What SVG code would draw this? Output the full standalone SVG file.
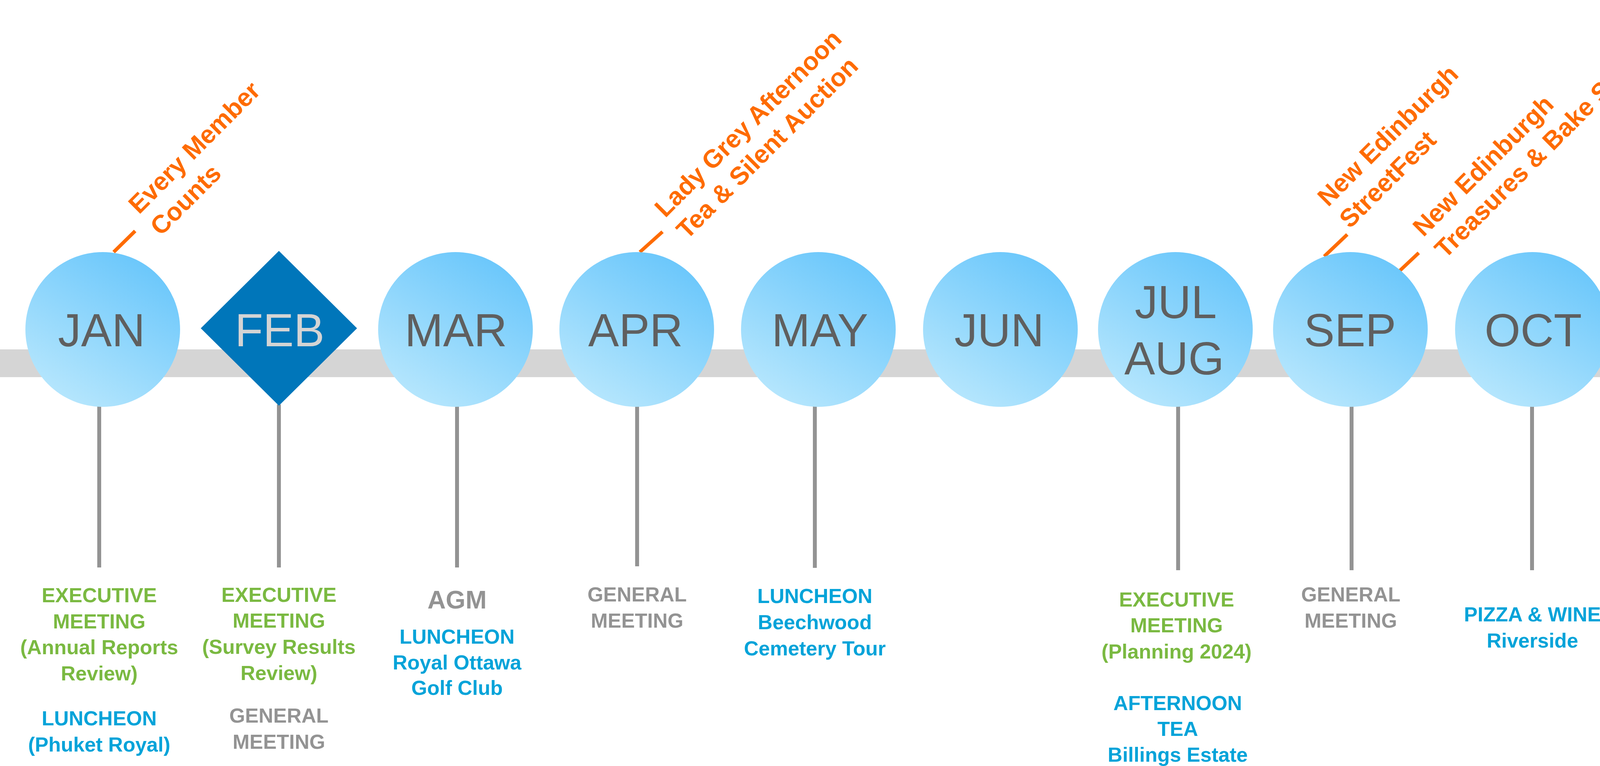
<svg xmlns="http://www.w3.org/2000/svg" width="5079" height="1960" viewBox="0 0 5079 1960">
<defs>
<linearGradient id="bubble" x1="0.2" y1="1" x2="0.8" y2="0">
<stop offset="0" stop-color="#bae8fd"/>
<stop offset="1" stop-color="#66c5fb"/>
</linearGradient>
<style>
.bubble{fill:url(#bubble)}
.month{font-family:"Liberation Sans",Arial,sans-serif;font-size:118px;fill:#5f5f5f;text-anchor:middle}
.feb{fill:#d4d4d4}
.det{font-family:"Liberation Sans",Arial,sans-serif;font-size:52px;font-weight:bold;text-anchor:middle}
.green{fill:#7ab941}
.blue{fill:#03a3d9}
.gray{fill:#939393}
.agm{font-size:65px}
.event{font-family:"Liberation Sans",Arial,sans-serif;font-size:65px;font-weight:bold;fill:#fe6b00}
.stem{stroke:#939393;stroke-width:10}
.leader{stroke:#fe6b00;stroke-width:9}
</style>
</defs>
<rect x="0" y="894" width="5079" height="71" fill="#d5d5d5"/>
<g id="connectors">
<line class="stem" x1="254" y1="1035" x2="254" y2="1452"/>
<line class="stem" x1="714" y1="1035" x2="714" y2="1452"/>
<line class="stem" x1="1170" y1="1035" x2="1170" y2="1452"/>
<line class="stem" x1="1631" y1="1035" x2="1631" y2="1449"/>
<line class="stem" x1="2086" y1="1035" x2="2086" y2="1453"/>
<line class="stem" x1="3016" y1="1035" x2="3016" y2="1459"/>
<line class="stem" x1="3460" y1="1022" x2="3460" y2="1459"/>
<line class="stem" x1="3922" y1="1035" x2="3922" y2="1459"/>
<line class="stem" x1="4399" y1="1035" x2="4399" y2="1453"/>
<line class="stem" x1="4864" y1="1035" x2="4864" y2="1456"/>
<line class="leader" x1="291" y1="645" x2="346" y2="591"/>
<line class="leader" x1="1638" y1="645" x2="1696" y2="593"/>
<line class="leader" x1="3390" y1="656" x2="3449" y2="600"/>
<line class="leader" x1="3582" y1="694" x2="3632" y2="647"/>
<line class="leader" x1="4414" y1="638" x2="4473" y2="582"/>
</g>
<g id="node-jan">
<circle class="bubble" cx="263" cy="843" r="198"/>
<text class="month" x="260" y="886">JAN</text>
<text class="event" transform="translate(356,550) rotate(-45)"><tspan x="0" y="0">Every Member</tspan><tspan x="0" y="79">Counts</tspan></text>
<text class="det green"><tspan x="254" y="1541">EXECUTIVE</tspan><tspan x="254" y="1608">MEETING</tspan><tspan x="254" y="1674">(Annual Reports</tspan><tspan x="254" y="1741">Review)</tspan></text>
<text class="det blue"><tspan x="254" y="1856">LUNCHEON</tspan><tspan x="254" y="1923">(Phuket Royal)</tspan></text>
</g>
<g id="node-feb">
<polygon points="714,642 914,840 714,1038 514,840" fill="#0076ba"/>
<text class="month feb" x="716" y="886">FEB</text>
<text class="det green"><tspan x="714" y="1540">EXECUTIVE</tspan><tspan x="714" y="1606">MEETING</tspan><tspan x="714" y="1673">(Survey Results</tspan><tspan x="714" y="1740">Review)</tspan></text>
<text class="det gray"><tspan x="714" y="1849">GENERAL</tspan><tspan x="714" y="1916">MEETING</tspan></text>
</g>
<g id="node-mar">
<circle class="bubble" cx="1166" cy="843" r="198"/>
<text class="month" x="1167" y="886">MAR</text>
<text class="det gray agm" x="1170" y="1557">AGM</text>
<text class="det blue"><tspan x="1170" y="1647">LUNCHEON</tspan><tspan x="1170" y="1713">Royal Ottawa</tspan><tspan x="1170" y="1778">Golf Club</tspan></text>
</g>
<g id="node-apr">
<circle class="bubble" cx="1630" cy="843" r="198"/>
<text class="month" x="1627" y="886">APR</text>
<text class="event" transform="translate(1703,559) rotate(-45)"><tspan x="0" y="0">Lady Grey Afternoon</tspan><tspan x="0" y="79">Tea &amp; Silent Auction</tspan></text>
<text class="det gray"><tspan x="1631" y="1539">GENERAL</tspan><tspan x="1631" y="1606">MEETING</tspan></text>
</g>
<g id="node-may">
<circle class="bubble" cx="2095" cy="843" r="198"/>
<text class="month" x="2099" y="886">MAY</text>
<text class="det blue"><tspan x="2086" y="1543">LUNCHEON</tspan><tspan x="2086" y="1610">Beechwood</tspan><tspan x="2086" y="1677">Cemetery Tour</tspan></text>
</g>
<g id="node-jun">
<circle class="bubble" cx="2561" cy="843" r="198"/>
<text class="month" x="2558" y="886">JUN</text>
</g>
<g id="node-julaug">
<circle class="bubble" cx="3009" cy="843" r="198"/>
<text class="month"><tspan x="3010" y="814">JUL</tspan><tspan x="3006" y="958">AUG</tspan></text>
<text class="det green"><tspan x="3012" y="1552">EXECUTIVE</tspan><tspan x="3012" y="1618">MEETING</tspan><tspan x="3012" y="1685">(Planning 2024)</tspan></text>
<text class="det blue"><tspan x="3015" y="1817">AFTERNOON</tspan><tspan x="3015" y="1883">TEA</tspan><tspan x="3015" y="1949">Billings Estate</tspan></text>
</g>
<g id="node-sep">
<circle class="bubble" cx="3457" cy="843" r="198"/>
<text class="month" x="3456" y="886">SEP</text>
<text class="event" transform="translate(3400,531) rotate(-45)"><tspan x="0" y="0">New Edinburgh</tspan><tspan x="0" y="79">StreetFest</tspan></text>
<text class="event" transform="translate(3644,608) rotate(-45)"><tspan x="0" y="0">New Edinburgh</tspan><tspan x="0" y="79">Treasures &amp; Bake Sale</tspan></text>
<text class="det gray"><tspan x="3458" y="1539">GENERAL</tspan><tspan x="3458" y="1606">MEETING</tspan></text>
</g>
<g id="node-oct">
<circle class="bubble" cx="3923" cy="843" r="198"/>
<text class="month" x="3925" y="886">OCT</text>
<text class="det blue"><tspan x="3923" y="1590">PIZZA &amp; WINE</tspan><tspan x="3923" y="1657">Riverside</tspan></text>
</g>
<g id="node-nov">
<circle class="bubble" cx="4403" cy="843" r="198"/>
<text class="month" x="4407" y="886">NOV</text>
<text class="event" transform="translate(4475,531) rotate(-45)"><tspan x="0" y="0">Linden House Theatre</tspan><tspan x="0" y="79">Benefit Night</tspan></text>
<text class="det gray"><tspan x="4400" y="1539">GENERAL</tspan><tspan x="4400" y="1606">MEETING</tspan></text>
</g>
<g id="node-dec">
<circle class="bubble" cx="4865" cy="843" r="198"/>
<text class="month" x="4866" y="886">DEC</text>
<text class="det blue"><tspan x="4864" y="1557">CHRISTMAS</tspan><tspan x="4864" y="1623">PARTY</tspan><tspan x="4864" y="1690">Riverside</tspan></text>
</g>
</svg>
